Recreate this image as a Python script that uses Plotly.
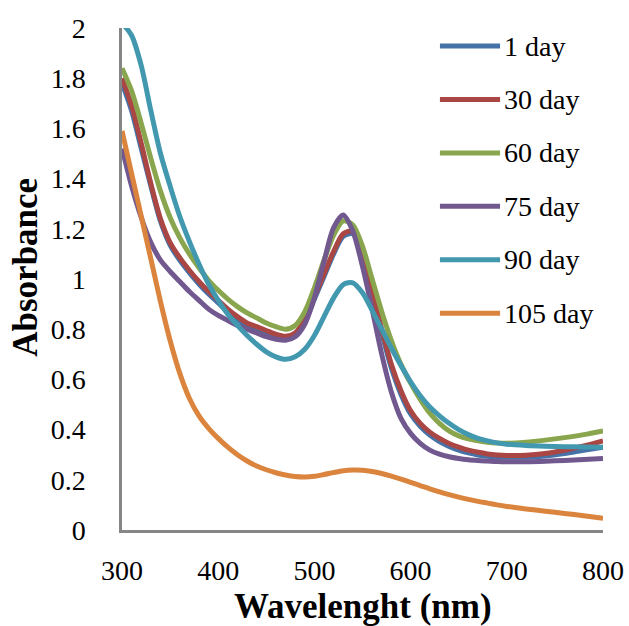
import plotly.graph_objects as go

wavelength = [300, 310, 320, 330, 340, 350, 360, 370, 380, 390,
              400, 410, 420, 430, 440, 450, 460, 470, 480, 490,
              500, 510, 520, 530, 540, 550, 560, 570, 580, 590,
              600, 610, 620, 630, 640, 650, 660, 670, 680, 690,
              700, 720, 740, 760, 780, 800]

day1 = [1.78, 1.67, 1.52, 1.37, 1.23, 1.135, 1.075, 1.025, 0.98, 0.94,
        0.905, 0.87, 0.84, 0.815, 0.80, 0.785, 0.772, 0.765, 0.777, 0.83,
        0.92, 1.01, 1.10, 1.17, 1.18, 1.09, 0.94, 0.785, 0.645, 0.54,
        0.462, 0.413, 0.378, 0.352, 0.333, 0.318, 0.307, 0.299, 0.294, 0.291,
        0.29, 0.29, 0.295, 0.305, 0.318, 0.33]
day30 = [1.80, 1.69, 1.54, 1.38, 1.24, 1.145, 1.085, 1.035, 0.99, 0.95,
         0.915, 0.88, 0.85, 0.825, 0.81, 0.795, 0.78, 0.772, 0.785, 0.84,
         0.93, 1.02, 1.11, 1.18, 1.19, 1.10, 0.95, 0.80, 0.66, 0.555,
         0.475, 0.425, 0.39, 0.365, 0.345, 0.33, 0.318, 0.31, 0.303, 0.299,
         0.297, 0.298, 0.305, 0.318, 0.335, 0.355]
day60 = [1.84, 1.75, 1.62, 1.48, 1.35, 1.245, 1.165, 1.10, 1.045, 0.995,
         0.955, 0.92, 0.89, 0.865, 0.845, 0.825, 0.81, 0.80, 0.815, 0.87,
         0.965, 1.075, 1.175, 1.232, 1.215, 1.13, 1.00, 0.87, 0.755, 0.66,
         0.585, 0.52, 0.465, 0.425, 0.395, 0.375, 0.363, 0.355, 0.35, 0.347,
         0.346, 0.35, 0.358, 0.368, 0.38, 0.395]
day75 = [1.52, 1.37, 1.245, 1.145, 1.075, 1.03, 0.99, 0.95, 0.915, 0.88,
         0.855, 0.835, 0.815, 0.80, 0.785, 0.77, 0.76, 0.756, 0.77, 0.82,
         0.925, 1.07, 1.205, 1.255, 1.19, 1.05, 0.88, 0.70, 0.55, 0.445,
         0.385, 0.345, 0.318, 0.302, 0.292, 0.285, 0.28, 0.277, 0.275, 0.273,
         0.272, 0.272, 0.274, 0.277, 0.281, 0.285]
day90 = [2.02, 1.97, 1.85, 1.67, 1.50, 1.37, 1.25, 1.15, 1.06, 0.98,
         0.915, 0.86, 0.815, 0.775, 0.74, 0.71, 0.69, 0.68, 0.69, 0.72,
         0.775, 0.85, 0.925, 0.978, 0.985, 0.945, 0.875, 0.80, 0.725, 0.655,
         0.59, 0.535, 0.49, 0.455, 0.425, 0.40, 0.38, 0.365, 0.355, 0.347,
         0.342, 0.337, 0.334, 0.332, 0.331, 0.33]
day105 = [1.59, 1.42, 1.25, 1.08, 0.91, 0.755, 0.625, 0.525, 0.455, 0.405,
          0.365, 0.33, 0.30, 0.275, 0.255, 0.24, 0.228, 0.219, 0.213, 0.211,
          0.214, 0.221, 0.229, 0.236, 0.239, 0.238, 0.233, 0.225, 0.215, 0.203,
          0.19, 0.177, 0.164, 0.152, 0.141, 0.131, 0.122, 0.114, 0.107, 0.10,
          0.094, 0.084, 0.075, 0.066, 0.057, 0.047]

series_names = ["1 day", "30 day", "60 day", "75 day", "90 day", "105 day"]
series_values = [day1, day30, day60, day75, day90, day105]
series_colors = ["#4572A7", "#AA4643", "#89A54E", "#71588F", "#4198AF", "#DB843D"]

x_ticks = [300, 400, 500, 600, 700, 800]
y_ticks = [0, 0.2, 0.4, 0.6, 0.8, 1, 1.2, 1.4, 1.6, 1.8, 2]
y_tick_labels = ["0", "0.2", "0.4", "0.6", "0.8", "1", "1.2", "1.4", "1.6", "1.8", "2"]

x_title = "Wavelenght (nm)"
y_title = "Absorbance"

FONT = "Liberation Serif, Times New Roman, serif"

fig = go.Figure()
for name, vals, col in zip(series_names, series_values, series_colors):
    fig.add_trace(go.Scatter(x=wavelength, y=vals, mode="lines", name=name,
                             line=dict(color=col, width=5, shape="spline", smoothing=0.8),
                             showlegend=False, hoverinfo="skip"))

# custom legend (long line samples like the original)
leg_top = 0.964
leg_step = 0.1064
for i, (name, col) in enumerate(zip(series_names, series_colors)):
    yy = leg_top - i * leg_step
    fig.add_shape(type="line", xref="paper", yref="paper", x0=0.661, x1=0.786, y0=yy, y1=yy,
                  line=dict(color=col, width=5))
    fig.add_annotation(xref="paper", yref="paper", x=0.79, y=yy, text=name, showarrow=False,
                       xanchor="left", yanchor="middle",
                       font=dict(family=FONT, size=28, color="black"))

# axis titles
fig.add_annotation(xref="paper", yref="paper", x=0.5, y=-0.153, text="<b>" + x_title + "</b>",
                   showarrow=False, xanchor="center", yanchor="middle",
                   font=dict(family=FONT, size=35, color="black"))
fig.add_annotation(xref="paper", yref="paper", x=-0.2, y=0.524, text="<b>" + y_title + "</b>",
                   showarrow=False, xanchor="center", yanchor="middle", textangle=-90,
                   font=dict(family=FONT, size=35, color="black"))

fig.update_layout(
    width=629, height=626,
    margin=dict(l=122, r=26, t=28, b=96),
    paper_bgcolor="white", plot_bgcolor="white",
    font=dict(family=FONT, size=28, color="black"),
    showlegend=False,
)
fig.update_xaxes(range=[300, 800], tickvals=x_ticks, ticktext=[str(v) for v in x_ticks],
                 showgrid=False, zeroline=False, showline=True, linecolor="#868686", linewidth=2.5,
                 ticks="", ticklabelstandoff=14, automargin=False,
                 tickfont=dict(family=FONT, size=28, color="black"))
fig.update_yaxes(range=[0, 2], tickvals=y_ticks, ticktext=y_tick_labels,
                 showgrid=False, zeroline=False, showline=True, linecolor="#868686", linewidth=2.5,
                 ticks="", ticklabelstandoff=28, automargin=False,
                 tickfont=dict(family=FONT, size=28, color="black"))

fig.write_html("out.html", config={"displayModeBar": False},
               post_script="document.body.style.margin='0';document.body.style.padding='0';")
